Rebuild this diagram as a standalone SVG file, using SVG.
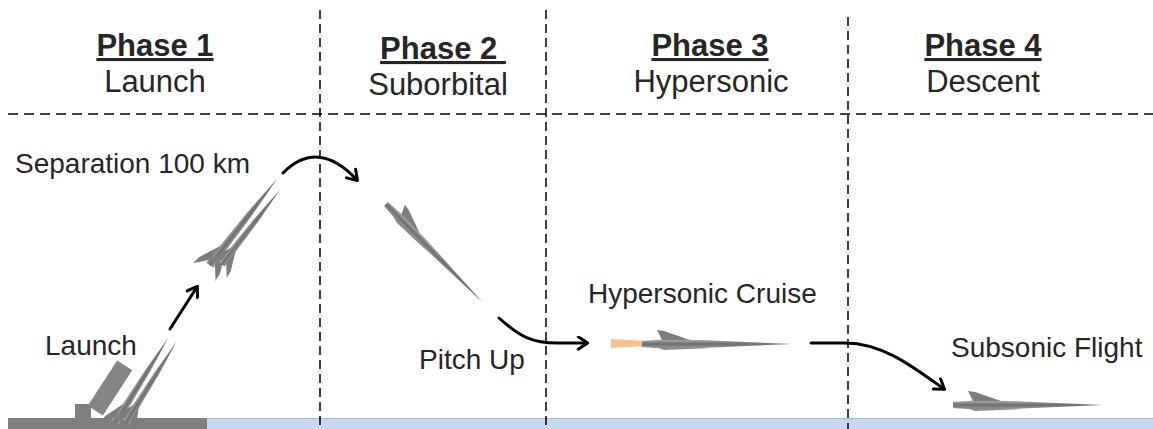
<svg xmlns="http://www.w3.org/2000/svg" width="1153" height="429" viewBox="0 0 1153 429">
  <style>
    .hdr { font-family: "Liberation Sans", Arial, sans-serif; font-size: 31px; fill: #262626; text-anchor: middle; }
    .ph { font-weight: bold; text-decoration: underline; white-space: pre; }
    .lbl { font-family: "Liberation Sans", Arial, sans-serif; font-size: 28px; fill: #262626; }
    .grid { stroke: #000; stroke-width: 1.5; fill: none; }
    .vgrid { stroke-dasharray: 9 5; }
    .hgrid { stroke-dasharray: 10 6; }
    .flow { stroke: #000; stroke-width: 3; fill: none; stroke-linecap: round; marker-end: url(#chev); }
    .body { fill: url(#metal); }
    .fin { fill: #7d7d7d; }
  </style>
  <defs>
    <marker id="chev" viewBox="0 0 12 12" refX="9" refY="6" markerWidth="15" markerHeight="15" markerUnits="userSpaceOnUse" orient="auto">
      <path d="M2,1 L9.5,6 L2,11" fill="none" stroke="#000" stroke-width="2.4" stroke-linecap="round" stroke-linejoin="round"/>
    </marker>
    <linearGradient id="metal" x1="0" y1="0" x2="0" y2="1">
      <stop offset="0" stop-color="#b0b0b0"/>
      <stop offset="0.5" stop-color="#6d6d6d"/>
      <stop offset="1" stop-color="#a0a0a0"/>
    </linearGradient>
    <!-- horizontal glide vehicle, tail at x=0, nose pointing to +x -->
    <g id="jet">
      <path class="body" d="M0,-3 L20,-4.5 L60,-4 L150,0 L60,4 L20,4.5 L0,3 Z"/>
      <path class="fin" d="M20,-4 L15,-14 L22,-13 L48,-4 Z"/>
      <path fill="#8a8a8a" d="M12,2 L45,3.5 L70,4 L22,6 Z"/>
    </g>
    <!-- slender rocket with tail fins, tail at x=0, nose to +x -->
    <g id="rocket">
      <path class="body" d="M0,-4 L60,-2.5 L100,0 L60,2.5 L0,4 Z"/>
      <path class="fin" d="M4,-3 L-8,-13 L0,-12 L20,-3 Z"/>
      <path class="fin" d="M4,3 L-8,13 L0,12 L20,3 Z"/>
    </g>
  </defs>

  <!-- ground strip -->
  <g id="ground">
    <rect x="207" y="418" width="946" height="11" fill="#c6d9f1"/>
    <line x1="207" y1="418.5" x2="1153" y2="418.5" stroke="#a9b7c8" stroke-width="1"/>
    <rect x="8" y="418" width="199" height="11" fill="#7f7f7f"/>
  </g>

  <!-- phase grid -->
  <g id="grid">
    <line class="grid hgrid" x1="8" y1="114" x2="1153" y2="114"/>
    <line class="grid vgrid" x1="320" y1="10" x2="320" y2="429"/>
    <line class="grid vgrid" x1="546" y1="10" x2="546" y2="429"/>
    <line class="grid vgrid" x1="848" y1="17" x2="848" y2="429"/>
  </g>

  <!-- phase headers -->
  <g id="phase1">
    <text class="hdr ph" x="155" y="56">Phase 1</text>
    <text class="hdr" x="155" y="92">Launch</text>
  </g>
  <g id="phase2">
    <text class="hdr ph" x="443" y="59">Phase 2 </text>
    <text class="hdr" x="438" y="95">Suborbital</text>
  </g>
  <g id="phase3">
    <text class="hdr ph" x="710" y="56">Phase 3</text>
    <text class="hdr" x="711" y="92">Hypersonic</text>
  </g>
  <g id="phase4">
    <text class="hdr ph" x="983" y="56">Phase 4</text>
    <text class="hdr" x="983" y="92">Descent</text>
  </g>

  <!-- launcher and boost vehicle -->
  <g id="launch-site">
    <rect x="75" y="404" width="16" height="14" fill="#7f7f7f"/>
    <rect x="-27" y="-9" width="54" height="18" fill="#858585" transform="translate(110,388) rotate(-57)"/>
    <g transform="translate(118,424) rotate(-58)">
      <use href="#rocket" transform="translate(0,-3)"/>
      <use href="#rocket" transform="translate(6,6) scale(0.95)"/>
    </g>
  </g>

  <!-- separated stack in climb -->
  <g id="climb-stage" transform="translate(212,267) rotate(-52)">
    <use href="#rocket" transform="translate(0,-3) scale(1.1)"/>
    <use href="#rocket" transform="translate(8,6) scale(0.95)"/>
  </g>

  <!-- descending glider in suborbital arc -->
  <g id="suborbital-glider" transform="translate(386,204) rotate(45.5) scale(0.92)">
    <use href="#jet"/>
  </g>

  <!-- hypersonic cruise with exhaust plume -->
  <g id="cruise">
    <path d="M611,339 L648,341 L648,346 L611,348 Z" fill="#f9c28f"/>
    <g transform="translate(642,344)">
      <use href="#jet"/>
    </g>
  </g>

  <!-- subsonic glide -->
  <g id="subsonic" transform="translate(953,405)">
    <use href="#jet"/>
  </g>

  <!-- trajectory labels -->
  <g id="labels">
    <text class="lbl" x="15" y="173">Separation 100 km</text>
    <text class="lbl" x="45" y="355">Launch</text>
    <text class="lbl" x="419" y="369">Pitch Up</text>
    <text class="lbl" x="588" y="303">Hypersonic Cruise</text>
    <text class="lbl" x="951" y="357">Subsonic Flight</text>
  </g>

  <!-- trajectory connectors -->
  <g id="connectors">
    <path class="flow" d="M170,329 L197,287"/>
    <path class="flow" d="M283,173 Q318,138 357,180"/>
    <path class="flow" d="M499,318 C520,337 532,343 558,343 L587,343"/>
    <path class="flow" d="M811,343 L845,343 C882,343 912,366 944,389"/>
  </g>
</svg>
